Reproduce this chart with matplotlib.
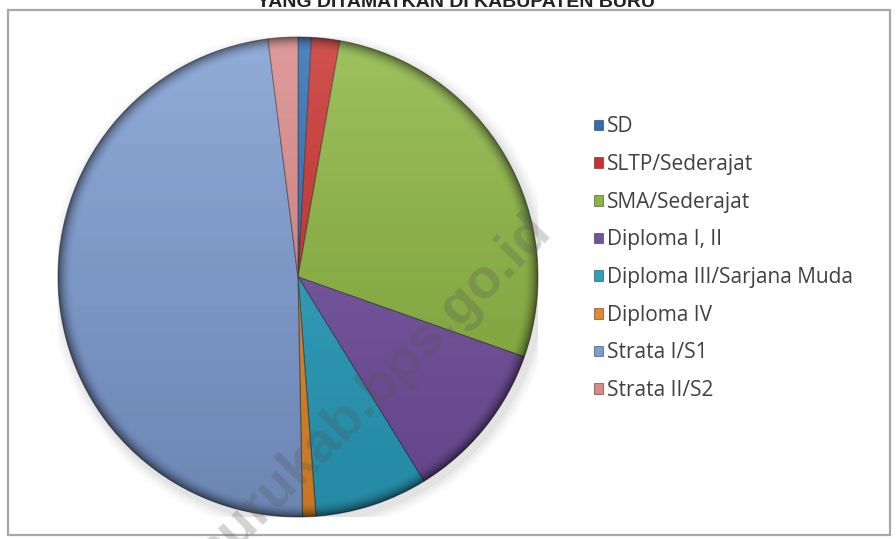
import numpy as np
import matplotlib
matplotlib.use('Agg')
import matplotlib.pyplot as plt
from matplotlib.patches import Circle, Rectangle

# education level shares (percent)
labels = ['SD', 'SLTP/Sederajat', 'SMA/Sederajat', 'Diploma I, II',
          'Diploma III/Sarjana Muda', 'Diploma IV', 'Strata I/S1', 'Strata II/S2']
shares = [0.9, 1.9, 27.6, 10.8, 7.6, 0.9, 48.3, 2.0]
colors = ['#2f6db5', '#c8322e', '#8db543', '#7451a0',
          '#2ba0bf', '#e48a2c', '#7f9dd2', '#d98a88']

title = 'YANG DITAMATKAN DI KABUPATEN BURU'
watermark = 'burukab.bps.go.id'

W, H = 896, 539
fig = plt.figure(figsize=(W / 100, H / 100), dpi=100)
fig.patch.set_facecolor('white')

# chart area frame
fig.patches.append(Rectangle((8 / W, 1 - 535 / H), 882 / W, 525 / H,
                             transform=fig.transFigure, fill=False,
                             edgecolor='#a8a8a8', linewidth=1.6))

fig.text(456 / W, 1 - 7 / H, title, ha='center', va='baseline',
         fontsize=14, fontweight='bold', family='Liberation Sans', color='#222222')

ax = fig.add_axes([58 / W, 1 - 517 / H, 480 / W, 480 / H])

# soft drop shadow
for i, a in enumerate([0.035, 0.03, 0.025, 0.02]):
    ax.add_patch(Circle((0.015, -0.02), 1.0 + 0.012 * (i + 1), color='k',
                        alpha=a, linewidth=0, zorder=0))

wedges, _ = ax.pie(shares, colors=colors, startangle=90, counterclock=False,
                   radius=1.0,
                   wedgeprops=dict(edgecolor=(0.1, 0.1, 0.1, 0.45), linewidth=0.8))
for w in wedges:
    w.set_zorder(2)

# gradient shading over the pie: lighter top, darker bottom, darker rim
n = 500
yy, xx = np.mgrid[1:-1:n * 1j, -1:1:n * 1j]
rr = np.hypot(xx, yy)
topness = (yy + 1) / 2
light = np.zeros((n, n, 4))
light[..., :3] = 1.0
light[..., 3] = 0.16 * topness ** 1.5
dark = np.zeros((n, n, 4))
dark[..., 3] = 0.14 * (1 - topness) + 0.45 * np.clip((rr - 0.94) / 0.06, 0, 1) ** 2
clip = Circle((0, 0), 1.0, transform=ax.transData)
for img in (light, dark):
    im = ax.imshow(img, extent=[-1, 1, -1, 1], zorder=3, interpolation='bilinear')
    im.set_clip_path(clip)

ax.set_xlim(-1, 1)
ax.set_ylim(-1, 1)
ax.set_aspect('equal')
ax.axis('off')
for w in wedges:
    w.set_clip_on(False)

leg = fig.legend(wedges, labels, loc='upper left',
                 bbox_to_anchor=(584 / W, 1 - 106 / H),
                 frameon=False, handlelength=0.4, handleheight=0.4,
                 handletextpad=0.18, labelspacing=0.80, borderpad=0,
                 prop={'family': 'Open Sans', 'size': 15})
for t in leg.get_texts():
    t.set_color('#404040')

fig.text(372 / W, 1 - 392 / H, watermark, rotation=45, ha='center', va='center',
         fontsize=40, fontweight='bold', family='Liberation Sans',
         color='#555555', alpha=0.26, zorder=10)

fig.savefig('out.png', dpi=100, facecolor='white')
